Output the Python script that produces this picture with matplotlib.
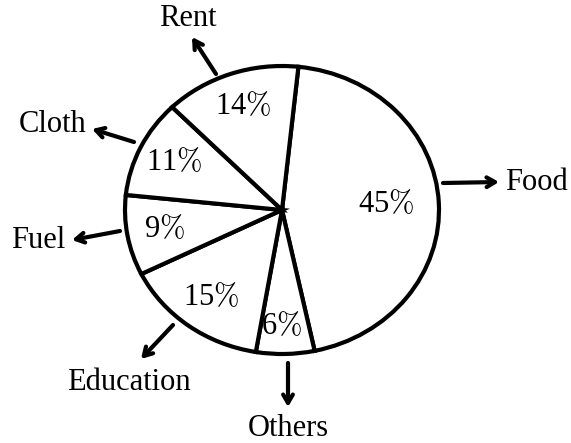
import matplotlib
matplotlib.use('Agg')
import matplotlib.pyplot as plt

plt.rcParams['font.family'] = ['Liberation Serif', 'DejaVu Serif']
plt.rcParams['mathtext.fontset'] = 'cm'

categories = ['Food', 'Others', 'Education', 'Fuel', 'Cloth', 'Rent']
shares = [45, 6, 15, 9, 11, 14]

# pie geometry in pixels (hub and radii of the slightly wide ellipse)
cx, cy = 282, 210
rx, ry = 157, 144
W, H = 571, 443

def px(x, y):
    return ((x - cx) / rx, (cy - y) / ry)

# arrow tail, arrow head, label position (pixels)
callouts = {
    'Food':      ((443, 183), (499, 182), (505, 182), 'left'),
    'Rent':      ((216, 74), (192, 37), (188, 18), 'center'),
    'Cloth':     ((134, 142), (92, 129), (53, 124), 'center'),
    'Fuel':      ((120, 231), (72, 240), (38, 240), 'center'),
    'Education': ((173, 325), (141, 359), (129, 382), 'center'),
    'Others':    ((288, 363), (288, 407), (288, 428), 'center'),
}

def main():
    fig = plt.figure(figsize=(W / 100, H / 100), dpi=100)
    ax = fig.add_axes([0, 0, 1, 1])

    wedges, texts, autotexts = ax.pie(
        shares,
        startangle=84,
        counterclock=False,
        autopct=lambda p: '%d' % round(p) + r'$\%$',
        pctdistance=0.76,
        wedgeprops={'facecolor': 'white', 'edgecolor': 'black', 'linewidth': 3.0},
        textprops={'fontsize': 22},
    )
    # the big slice label sits a bit closer to the hub
    x, y = autotexts[0].get_position()
    autotexts[0].set_position((x * 0.87, y * 0.87))
    # 6% sits a little lower
    x, y = autotexts[1].get_position()
    autotexts[1].set_position((x - 0.02, y - 0.05))

    ax.set_aspect('auto')
    ax.set_xlim(-cx / rx, (W - cx) / rx)
    ax.set_ylim(-(H - cy) / ry, cy / ry)
    ax.axis('off')

    for name in categories:
        tail, head, pos, ha = callouts[name]
        ax.annotate('', xy=px(*head), xytext=px(*tail),
                    arrowprops=dict(arrowstyle='->,head_length=0.6,head_width=0.35',
                                    lw=3.0, color='black', shrinkA=0, shrinkB=0))
        ax.text(*px(*pos), name, fontsize=22, ha=ha, va='center')

    plt.savefig('out.png', dpi=100)

if __name__ == '__main__':
    main()
